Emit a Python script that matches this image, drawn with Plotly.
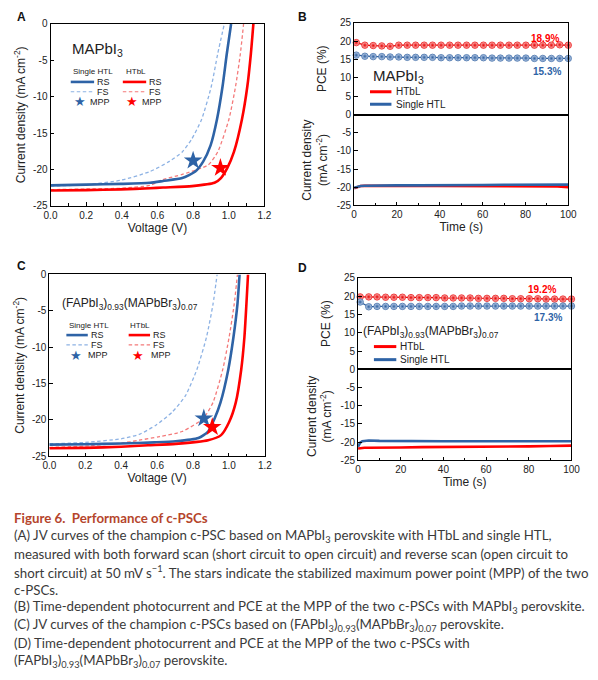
import plotly.graph_objects as go

W, H = 598, 680
FONT = "Liberation Sans, Arial, sans-serif"
BLUE = "#2e63a6"
BLUE_L = "#8db2e4"
RED = "#ff0000"
RED_L = "#f47a7a"
DASH = "3.5px,2.5px"

# ---------------- Panel A (MAPbI3) JV data ----------------
a_single_rs_v = [0, 0.2, 0.394, 0.558, 0.631, 0.739, 0.812, 0.857, 0.898, 0.934, 0.965, 0.989, 1.013]
a_single_rs_j = [-22.2, -22.1, -22.0, -21.85, -21.6, -21.2, -20.3, -18.9, -16.7, -13.1, -8.6, -4.1, 0]
a_single_fs_v = [0, 0.2, 0.394, 0.558, 0.667, 0.739, 0.793, 0.848, 0.902, 0.938, 0.975]
a_single_fs_j = [-22.3, -22.1, -21.5, -20.3, -18.9, -17.6, -15.8, -13.1, -8.6, -4.1, 0]
a_htbl_rs_v = [0, 0.2, 0.394, 0.558, 0.631, 0.794, 0.92, 0.956, 0.992, 1.029, 1.074, 1.104, 1.124, 1.138]
a_htbl_rs_j = [-22.9, -22.85, -22.75, -22.6, -22.5, -22.3, -21.85, -21.2, -19.8, -17.6, -13.1, -8.6, -4.1, 0]
a_htbl_fs_v = [0, 0.2, 0.394, 0.558, 0.631, 0.739, 0.884, 0.938, 1.001, 1.038, 1.065, 1.083]
a_htbl_fs_j = [-22.8, -22.7, -22.6, -22.2, -21.4, -20.7, -19.4, -17.6, -13.1, -8.6, -4.1, 0]
a_mpp_single = (0.80, -18.8)
a_mpp_htbl = (0.953, -19.8)

# ---------------- Panel C (FAPbI3)0.93(MAPbBr3)0.07 JV data ----------------
c_single_rs_v = [0, 0.2, 0.4, 0.585, 0.703, 0.83, 0.884, 0.92, 0.953, 0.996, 1.025, 1.047, 1.059]
c_single_rs_j = [-23.4, -23.35, -23.25, -23.1, -22.95, -22.5, -21.6, -19.8, -17.6, -13.1, -8.6, -4.1, 0]
c_single_fs_v = [0, 0.2, 0.4, 0.5, 0.595, 0.685, 0.757, 0.821, 0.875, 0.911, 0.934]
c_single_fs_j = [-23.3, -23.1, -22.6, -22.0, -20.7, -18.9, -16.7, -13.1, -8.6, -4.1, 0]
c_htbl_rs_v = [0, 0.2, 0.4, 0.55, 0.703, 0.884, 0.956, 1.001, 1.038, 1.068, 1.086, 1.097, 1.106]
c_htbl_rs_j = [-23.9, -23.85, -23.7, -23.5, -23.3, -22.8, -22.1, -20.3, -17.6, -13.1, -8.6, -4.1, 0]
c_htbl_fs_v = [0, 0.2, 0.4, 0.5, 0.613, 0.739, 0.857, 0.911, 0.965, 1.001, 1.029, 1.047]
c_htbl_fs_j = [-23.8, -23.6, -23.2, -22.8, -22.3, -21.6, -19.8, -17.6, -13.1, -8.6, -4.1, 0]
c_mpp_single = (0.86, -19.8)
c_mpp_htbl = (0.907, -21.0)

# ---------------- Panels B / D : MPP tracking ----------------
pce_t = [1, 5, 8.9, 12.9, 16.8, 20.8, 24.8, 28.7, 32.7, 36.6, 40.6, 44.6, 48.5,
         52.5, 56.4, 60.4, 64.4, 68.3, 72.3, 76.2, 80.2, 84.2, 88.1, 92.1, 96.0, 100]
b_pce_htbl = [19.6, 18.9, 18.8, 18.7, 18.6, 18.9, 18.9, 18.9, 18.9, 18.9, 18.9, 18.9, 18.9,
              18.9, 18.9, 18.9, 18.9, 18.9, 18.9, 18.9, 18.9, 18.9, 18.9, 18.9, 19.0, 18.9]
b_pce_single = [16.2, 15.9, 15.8, 15.8, 15.7, 15.7, 15.6, 15.6, 15.6, 15.6, 15.5, 15.5, 15.5,
                15.5, 15.5, 15.5, 15.4, 15.4, 15.4, 15.4, 15.4, 15.3, 15.3, 15.3, 15.3, 15.3]
d_pce_htbl = [19.8, 19.8, 19.8, 19.7, 19.7, 19.7, 19.6, 19.6, 19.6, 19.6, 19.5, 19.5, 19.5,
              19.5, 19.4, 19.4, 19.4, 19.4, 19.3, 19.3, 19.3, 19.3, 19.2, 19.2, 19.2, 19.2]
d_pce_single = [18.4, 17.1, 17.2, 17.2, 17.2, 17.2, 17.2, 17.2, 17.2, 17.2, 17.2, 17.2, 17.3,
                17.3, 17.3, 17.3, 17.3, 17.3, 17.3, 17.3, 17.3, 17.3, 17.3, 17.3, 17.3, 17.3]

jt = [0, 1, 2, 3, 5, 10, 20, 30, 40, 50, 60, 70, 80, 90, 95, 100]
b_j_htbl = [-20.3, -20.1, -19.9, -19.7, -19.6, -19.6, -19.8, -19.8, -19.8, -19.8, -19.8, -19.8, -19.8, -19.8, -19.8, -20.0]
b_j_single = [-20.2, -20.0, -19.8, -19.7, -19.6, -19.5, -19.5, -19.5, -19.4, -19.4, -19.4, -19.35, -19.3, -19.3, -19.3, -19.3]
d_j_htbl = [-21.8, -21.7, -21.6, -21.6, -21.6, -21.5, -21.5, -21.4, -21.4, -21.3, -21.3, -21.2, -21.2, -21.1, -21.1, -21.0]
d_j_single = [-21.3, -20.2, -19.8, -19.7, -19.6, -19.7, -19.8, -19.8, -19.8, -19.8, -19.8, -19.8, -19.8, -19.8, -19.8, -19.8]

b_label_htbl, b_label_single = "18.9%", "15.3%"
d_label_htbl, d_label_single = "19.2%", "17.3%"

jv_ticks = [-25, -20, -15, -10, -5, 0]
jv_ticktext = ["-25", "-20", "-15", "-10", "-5", "0"]
pce_ticks = [0, 5, 10, 15, 20, 25]
cur_ticks = [-25, -20, -15, -10, -5]
cur_ticktext = ["-25", "-20", "-15", "-10", "-5"]


def px(x):
    return x / W


def py(y):
    return 1 - y / H


fig = go.Figure()


def jv(xa, ya, v, j, color, width, dash):
    fig.add_trace(go.Scatter(x=v, y=j, mode="lines", xaxis=xa, yaxis=ya, showlegend=False,
                             line=dict(color=color, width=width, dash=dash, shape="spline", smoothing=0.6)))


def star(xa, ya, pt, color):
    fig.add_trace(go.Scatter(x=[pt[0]], y=[pt[1]], mode="markers", xaxis=xa, yaxis=ya, showlegend=False,
                             marker=dict(symbol="star", size=14, color=color, line=dict(width=0))))


# Panel A
jv("x", "y", a_single_fs_v, a_single_fs_j, BLUE_L, 1.3, DASH)
jv("x", "y", a_htbl_fs_v, a_htbl_fs_j, RED_L, 1.3, DASH)
jv("x", "y", a_single_rs_v, a_single_rs_j, BLUE, 2.6, "solid")
jv("x", "y", a_htbl_rs_v, a_htbl_rs_j, RED, 2.6, "solid")
star("x", "y", a_mpp_single, BLUE)
star("x", "y", a_mpp_htbl, RED)

# Panel C
jv("x4", "y4", c_single_fs_v, c_single_fs_j, BLUE_L, 1.3, DASH)
jv("x4", "y4", c_htbl_fs_v, c_htbl_fs_j, RED_L, 1.3, DASH)
jv("x4", "y4", c_single_rs_v, c_single_rs_j, BLUE, 2.6, "solid")
jv("x4", "y4", c_htbl_rs_v, c_htbl_rs_j, RED, 2.6, "solid")
star("x4", "y4", c_mpp_single, BLUE)
star("x4", "y4", c_mpp_htbl, RED)


def pce(xa, ya, vals, center, edge):
    fig.add_trace(go.Scatter(x=pce_t, y=vals, mode="lines+markers", xaxis=xa, yaxis=ya, showlegend=False,
                             cliponaxis=False,
                             line=dict(color=edge, width=1.2),
                             marker=dict(size=6.5, color=center, symbol="circle",
                                         gradient=dict(type="radial", color=edge),
                                         line=dict(width=0.7, color=edge))))


def cur(xa, ya, vals, color):
    fig.add_trace(go.Scatter(x=jt, y=vals, mode="lines", xaxis=xa, yaxis=ya, showlegend=False,
                             line=dict(color=color, width=2.6)))


# Panel B
pce("x3", "y2", b_pce_htbl, "#ffc8c8", "#e60000")
pce("x3", "y2", b_pce_single, "#c8d8f0", "#2e5f9e")
cur("x2", "y3", b_j_htbl, RED)
cur("x2", "y3", b_j_single, BLUE)

# Panel D
pce("x6", "y5", d_pce_htbl, "#ffc8c8", "#e60000")
pce("x6", "y5", d_pce_single, "#c8d8f0", "#2e5f9e")
cur("x5", "y6", d_j_htbl, RED)
cur("x5", "y6", d_j_single, BLUE)

TICKF = dict(family=FONT, size=10, color="#222")
TITLEF = dict(family=FONT, size=12, color="#222")


def xax(domain, anchor, rng, dtick, minor, title=None, labels=True, fmt=None, matches=None):
    d = dict(domain=domain, anchor=anchor, range=rng, dtick=dtick, tick0=0,
             showline=True, linecolor="black", linewidth=1, mirror=True,
             ticks="inside" if labels else "", ticklen=3.5, tickwidth=1, tickcolor="black",
             showticklabels=labels, tickfont=TICKF, showgrid=False, zeroline=False,
             fixedrange=True)
    if labels:
        d["minor"] = dict(dtick=minor, ticks="inside", ticklen=2.5, tickcolor="black", showgrid=False)
    if fmt:
        d["tickformat"] = fmt
    if title:
        d["title"] = dict(text=title, font=TITLEF, standoff=3)
    if matches:
        d["matches"] = matches
    return d


def yax(domain, anchor, rng, tickvals, ticktext, title=None, standoff=6):
    d = dict(domain=domain, anchor=anchor, range=rng, tickvals=tickvals, ticktext=ticktext,
             showline=True, linecolor="black", linewidth=1, mirror=True,
             ticks="inside", ticklen=3.5, tickwidth=1, tickcolor="black",
             tickfont=TICKF, showgrid=False, zeroline=False, fixedrange=True)
    if title:
        d["title"] = dict(text=title, font=TITLEF, standoff=standoff)
    return d


JTITLE = "Current density (mA cm<sup>-2</sup>)"
fig.update_layout(
    width=W, height=H, margin=dict(l=0, r=0, t=0, b=0),
    paper_bgcolor="white", plot_bgcolor="white", showlegend=False,
    font=dict(family=FONT, color="#222"),
    # Panel A
    xaxis=xax([px(44.7), px(264.5)], "y", [0, 1.2], 0.2, 0.1, "Voltage (V)", fmt=".1f"),
    yaxis=yax([py(203.3), py(18.3)], "x", [-25, 0], jv_ticks, jv_ticktext, JTITLE, 4),
    # Panel B
    xaxis2=xax([px(356.7), px(576.7)], "y3", [0, 100], 20, 10, "Time (s)"),
    xaxis3=xax([px(356.7), px(576.7)], "y2", [0, 100], 20, 10, labels=False, matches="x2"),
    yaxis2=yax([py(110.8), py(17.0)], "x3", [0, 25], pce_ticks, [str(v) for v in pce_ticks], "PCE (%)", 10),
    yaxis3=yax([py(202.8), py(110.8)], "x2", [-25, 0], cur_ticks, cur_ticktext),
    # Panel C
    xaxis4=xax([px(43.5), px(265)], "y4", [0, 1.2], 0.2, 0.1, "Voltage (V)", fmt=".1f"),
    yaxis4=yax([py(458.3), py(273.3)], "x4", [-25, 0], jv_ticks, jv_ticktext, JTITLE, 4),
    # Panel D
    xaxis5=xax([px(360.7), px(580)], "y6", [0, 100], 20, 10, "Time (s)"),
    xaxis6=xax([px(360.7), px(580)], "y5", [0, 100], 20, 10, labels=False, matches="x5"),
    yaxis5=yax([py(370), py(276.7)], "x6", [0, 25], pce_ticks, [str(v) for v in pce_ticks], "PCE (%)", 10),
    yaxis6=yax([py(462.3), py(370)], "x5", [-25, 0], cur_ticks, cur_ticktext),
)

ann = []
shapes = []


def text(x, y, s, size, color="#222", xanchor="left", bold=False, family=FONT, angle=0):
    ann.append(dict(x=px(x), y=py(y), xref="paper", yref="paper", text=(f"<b>{s}</b>" if bold else s),
                    showarrow=False, xanchor=xanchor, yanchor="middle", textangle=angle,
                    font=dict(family=family, size=size, color=color)))


def seg(x0, x1, y, color, width, dash="solid"):
    shapes.append(dict(type="line", xref="paper", yref="paper", x0=px(x0), x1=px(x1), y0=py(y), y1=py(y),
                       line=dict(color=color, width=width, dash=dash)))


def starmark(x, y, color):
    ann.append(dict(x=px(x), y=py(y), xref="paper", yref="paper", text="★", showarrow=False,
                    xanchor="center", yanchor="middle", font=dict(family="DejaVu Sans", size=13, color=color)))


# Panel letters
text(8, 11, "A", 12, "#111", bold=True)
text(297, 11, "B", 12, "#111", bold=True)
text(8, 265, "C", 12, "#111", bold=True)
text(297, 267, "D", 12, "#111", bold=True)

# Panel A legend
text(65, 44, "MAPbI<sub>3</sub>", 15)
text(65.5, 67, "Single HTL", 8)
text(120, 67, "HTbL", 8)
for (x0, col_s, col_d) in [(65.5, BLUE, BLUE_L), (119, RED, RED_L)]:
    seg(x0, x0 + 24, 77.3, col_s, 2.6)
    seg(x0, x0 + 24, 87.3, col_d, 1.2, DASH)
    starmark(x0 + 9.5, 97.3, col_s)
    text(x0 + 25, 77.3, "RS", 9)
    text(x0 + 25, 87.3, "FS", 9)
    text(x0 + 18, 97.3, "MPP", 9)

# Panel C legend
text(54, 303, "(FAPbI<sub>3</sub>)<sub>0.93</sub>(MAPbBr<sub>3</sub>)<sub>0.07</sub>", 12)
text(61.5, 325, "Single HTL", 8)
text(124, 325, "HTbL", 8)
for (x0, col_s, col_d) in [(61, BLUE, BLUE_L), (125, RED, RED_L)]:
    seg(x0, x0 + 22, 335, col_s, 2.6)
    seg(x0, x0 + 22, 345, col_d, 1.2, DASH)
    starmark(x0 + 10, 355.5, col_s)
    text(x0 + 23, 335, "RS", 9)
    text(x0 + 23, 345, "FS", 9)
    text(x0 + 20.5, 355.5, "MPP", 9)

# Panel B legend / labels
text(374, 72, "MAPbI<sub>3</sub>", 15)
seg(373, 395, 87.3, RED, 3)
seg(373, 395, 100, BLUE, 3)
text(398, 87.3, "HTbL", 10)
text(398, 100, "Single HTL", 10)
text(569, 33, b_label_htbl, 10, RED, xanchor="right", bold=True)
text(571, 67, b_label_single, 10, BLUE, xanchor="right", bold=True)
text(317, 157, "Current density<br>(mA cm<sup>-2</sup>)", 12, angle=-90, xanchor="center")

# Panel D legend / labels
text(364, 332, "(FAPbI<sub>3</sub>)<sub>0.93</sub>(MAPbBr<sub>3</sub>)<sub>0.07</sub>", 12)
seg(377, 400, 346.7, RED, 3)
seg(377, 400, 360, BLUE, 3)
text(402, 346.7, "HTbL", 10)
text(402, 360, "Single HTL", 10)
text(566, 289, d_label_htbl, 10, RED, xanchor="right", bold=True)
text(572, 317, d_label_single, 10, BLUE, xanchor="right", bold=True)
text(321, 418, "Current density<br>(mA cm<sup>-2</sup>)", 12, angle=-90, xanchor="center")

# Caption
CAP = "Lato, Open Sans, sans-serif"
CAPC = "#3a3a3a"
caption_lines = [
    "(A) JV curves of the champion c-PSC based on MAPbI<sub>3</sub> perovskite with HTbL and single HTL,",
    "measured with both forward scan (short circuit to open circuit) and reverse scan (open circuit to",
    "short circuit) at 50 mV s<sup>\u22121</sup>. The stars indicate the stabilized maximum power point (MPP) of the two",
    "c-PSCs.",
    "(B) Time-dependent photocurrent and PCE at the MPP of the two c-PSCs with MAPbI<sub>3</sub> perovskite.",
    "(C) JV curves of the champion c-PSCs based on (FAPbI<sub>3</sub>)<sub>0.93</sub>(MAPbBr<sub>3</sub>)<sub>0.07</sub> perovskite.",
    "(D) Time-dependent photocurrent and PCE at the MPP of the two c-PSCs with",
    "(FAPbI<sub>3</sub>)<sub>0.93</sub>(MAPbBr<sub>3</sub>)<sub>0.07</sub> perovskite.",
]
text(5, 521, "Figure 6.\u00a0 Performance of c-PSCs", 13.3, "#b5452c", bold=True, family=CAP)
for i, line in enumerate(caption_lines):
    text(5, 539.5 + i * 18.2, line, 13.3, CAPC, family=CAP)

fig.update_layout(annotations=ann, shapes=shapes)
fig.write_html(
    "out.html",
    config={"displayModeBar": False, "staticPlot": True},
    post_script="document.body.style.margin='0px';document.documentElement.style.overflow='hidden';",
)
